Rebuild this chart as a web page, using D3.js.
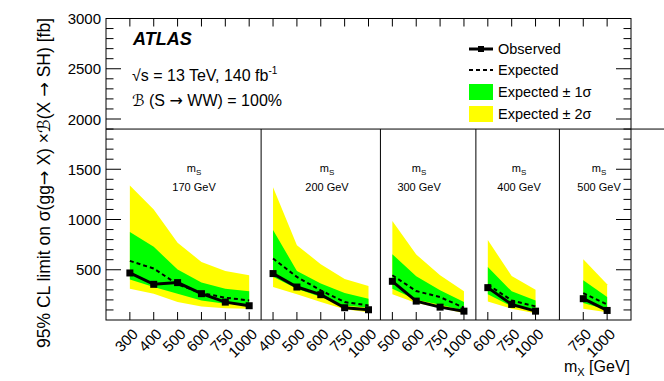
<!DOCTYPE html>
<html><head><meta charset="utf-8">
<script src="https://cdn.jsdelivr.net/npm/d3@7"></script>
<style>
html,body{margin:0;padding:0;background:#fff;}
svg{display:block;font-family:"Liberation Sans",Arial,Helvetica,sans-serif;}
.dv{font-family:"DejaVu Sans",sans-serif;}
</style></head>
<body><svg id="c" width="664" height="381"></svg>
<script>
// ---- data ----
const massS = [170, 200, 300, 400, 500];
const massX = [[300,400,500,600,750,1000],[400,500,600,750,1000],[500,600,750,1000],[600,750,1000],[750,1000]];
const binStart = [1, 7, 12, 16, 20];
const observed = [[468,355,372,262,178,142],[462,328,252,122,102],[385,188,128,88],[322,155,88],[212,95]];
const expected = [[588,512,355,268,222,195],[612,428,295,178,145],[445,288,228,122],[352,195,135],[268,155]];
const up1 = [[875,728,502,372,312,285],[895,488,362,268,212],[655,435,295,178],[528,285,195],[395,228]];
const dn1 = [[402,328,262,195,162,152],[430,312,228,145,122],[312,202,152,95],[255,135,95],[168,102]];
const up2 = [[1338,1100,768,578,488,445],[1322,745,555,408,338],[985,652,445,285],[795,438,302],[605,355]];
const dn2 = [[312,262,178,135,118,112],[328,255,178,108,78],[255,168,122,68],[185,112,68],[112,78]];
const yTicks = [0,500,1000,1500,2000,2500,3000];
const legendItems = ["Observed","Expected","Expected \u00b1 1\u03c3","Expected \u00b1 2\u03c3"];

// ---- layout ----
const svg = d3.select("#c");
const L = 106, R = 631, T = 18.5, B = 320;
const x = d3.scaleLinear().domain([0, 22]).range([L, R]);
const y = d3.scaleLinear().domain([0, 3000]).range([B, T]);
const GREEN = "#00ff00", YELLOW = "#ffff00";
const labelOffset = [3.69, 9.26, 13.12, 17.31, 20.66];

const panels = massS.map((m, p) => massX[p].map((mx, i) => ({
  bin: binStart[p] + i, mx, obs: observed[p][i], exp: expected[p][i],
  u1: up1[p][i], d1: dn1[p][i], u2: up2[p][i], d2: dn2[p][i]
})));

const g = svg.append("g");
const area = (hi, lo) => d3.area().x(d => x(d.bin)).y0(d => y(d[lo])).y1(d => y(d[hi]));
panels.forEach(pts => {
  g.append("path").datum(pts).attr("d", area("u2","d2")).attr("fill", YELLOW);
  g.append("path").datum(pts).attr("d", area("u1","d1")).attr("fill", GREEN);
});
const line = k => d3.line().x(d => x(d.bin)).y(d => y(d[k]));
panels.forEach(pts => {
  g.append("path").datum(pts).attr("d", line("exp")).attr("fill","none")
    .attr("stroke","#000").attr("stroke-width",2).attr("stroke-dasharray","4,3");
  g.append("path").datum(pts).attr("d", line("obs")).attr("fill","none")
    .attr("stroke","#000").attr("stroke-width",3);
  g.selectAll(null).data(pts).enter().append("rect")
    .attr("x", d => x(d.bin) - 3.5).attr("y", d => y(d.obs) - 3.5)
    .attr("width", 7).attr("height", 7).attr("fill", "#000");
});

// frame
const fr = svg.append("g").attr("stroke","#000").attr("stroke-width",1).attr("fill","none");
fr.append("rect").attr("x", L).attr("y", T).attr("width", R - L).attr("height", B - T);
fr.append("line").attr("x1", L).attr("x2", 664).attr("y1", y(1900)).attr("y2", y(1900));
for (let p = 0; p < panels.length - 1; p++) {
  const a = panels[p][panels[p].length - 1].bin, b = panels[p + 1][0].bin;
  const sx = x((a + b) / 2);
  fr.append("line").attr("x1", sx).attr("x2", sx).attr("y1", y(1900)).attr("y2", B);
}
d3.range(1, 22).forEach(i => fr.append("line").attr("x1", x(i)).attr("x2", x(i)).attr("y1", T).attr("y2", T + 8));
panels.flat().forEach(d => fr.append("line").attr("x1", x(d.bin)).attr("x2", x(d.bin)).attr("y1", B).attr("y2", B - 8));
d3.range(100, 3000, 100).forEach(v => {
  const len = v % 500 === 0 ? 15 : 7.5;
  fr.append("line").attr("x1", L).attr("x2", L + len).attr("y1", y(v)).attr("y2", y(v));
  fr.append("line").attr("x1", R).attr("x2", R - len).attr("y1", y(v)).attr("y2", y(v));
});

// y axis labels
svg.append("g").selectAll("text").data(yTicks.filter(v => v >= 500)).enter().append("text")
  .attr("x", L - 5).attr("y", d => y(d) + 5.5).attr("text-anchor","end")
  .attr("font-size", 15).attr("fill","#000").text(d => d);

// x axis labels
const xl = svg.append("g");
panels.flat().forEach(d => {
  const px = x(d.bin) + 9, py = 335;
  xl.append("text").attr("transform", `translate(${px},${py}) rotate(-45)`)
    .attr("text-anchor","end").attr("font-size", 15).attr("fill","#000").text(d.mx);
});
// axis titles
const xt = svg.append("text").attr("x", R - 1).attr("y", 372).attr("text-anchor","end").attr("font-size", 16).attr("fill","#000");
xt.append("tspan").text("m");
xt.append("tspan").attr("font-size", 11).attr("dy", 4).text("X");
xt.append("tspan").attr("dy", -4).text(" [GeV]");
const yt = svg.append("text").attr("transform","translate(50,18) rotate(-90)").attr("text-anchor","end")
  .attr("font-size", 17.5).attr("fill","#000");
yt.append("tspan").text("95% CL limit on \u03c3(gg");
yt.append("tspan").attr("class","dv").text("\u2192");
yt.append("tspan").text(" X) \u00d7");
yt.append("tspan").attr("class","dv").attr("font-style","italic").text("\u212c");
yt.append("tspan").text("(X ");
yt.append("tspan").attr("class","dv").text("\u2192");
yt.append("tspan").text(" SH) [fb]");

// panel labels
panels.forEach((pts, p) => {
  const cx = x(labelOffset[p]);
  const t = svg.append("text").attr("x", cx).attr("y", 172).attr("text-anchor","middle").attr("font-size", 11);
  t.append("tspan").text("m");
  t.append("tspan").attr("font-size", 8).attr("dy", 3).text("S");
  svg.append("text").attr("x", cx).attr("y", 191).attr("text-anchor","middle").attr("font-size", 11)
    .text(massS[p] + " GeV");
});

// ATLAS block
svg.append("text").attr("x", 133).attr("y", 45).attr("font-size", 18).attr("font-weight","bold")
  .attr("font-style","italic").text("ATLAS");
const t2 = svg.append("text").attr("x", 132).attr("y", 81).attr("font-size", 16);
t2.append("tspan").text("\u221as = 13 TeV, 140 fb");
t2.append("tspan").attr("font-size", 10).attr("dy", -7).text("-1");
const t3 = svg.append("text").attr("x", 132).attr("y", 106).attr("font-size", 16);
t3.append("tspan").attr("class","dv").attr("font-style","italic").text("\u212c");
t3.append("tspan").text(" (S ");
t3.append("tspan").attr("class","dv").text("\u2192");
t3.append("tspan").text(" WW) = 100%");

// legend
const lg = svg.append("g");
const ly = [49, 70, 92, 114];
const lx0 = 469, lx1 = 493;
lg.append("line").attr("x1", lx0).attr("x2", lx1).attr("y1", ly[0]).attr("y2", ly[0]).attr("stroke","#000").attr("stroke-width",3);
lg.append("rect").attr("x", (lx0+lx1)/2 - 3).attr("y", ly[0] - 3).attr("width", 6).attr("height", 6);
lg.append("line").attr("x1", lx0).attr("x2", lx1).attr("y1", ly[1]).attr("y2", ly[1]).attr("stroke","#000").attr("stroke-width",2).attr("stroke-dasharray","4,3");
lg.append("rect").attr("x", lx0).attr("y", ly[2] - 8).attr("width", lx1 - lx0).attr("height", 16).attr("fill", GREEN);
lg.append("rect").attr("x", lx0).attr("y", ly[3] - 8).attr("width", lx1 - lx0).attr("height", 16).attr("fill", YELLOW);
legendItems.forEach((s, i) => lg.append("text").attr("x", 498).attr("y", ly[i] + 5).attr("font-size", 14.5).text(s));
</script></body></html>
